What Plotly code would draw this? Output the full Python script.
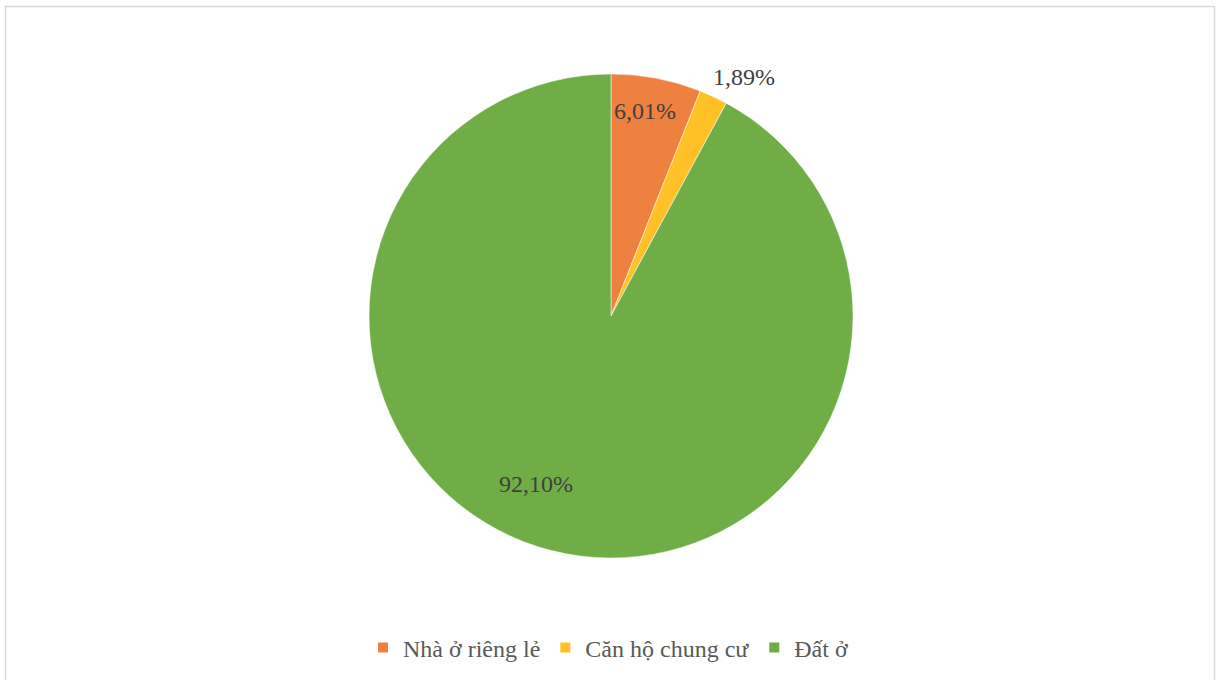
import math
import plotly.graph_objects as go

labels = ["Nhà ở riêng lẻ", "Căn hộ chung cư", "Đất ở"]
values = [6.01, 1.89, 92.10]
text_labels = ["6,01%", "1,89%", "92,10%"]
colors = ["#EE8040", "#FFC125", "#70AD47"]
# label placement (radius fraction, angle offset in degrees) for each slice
label_radius = [0.86, 1.13, 0.76]
label_angle_shift = [-1.5, 4.0, 10.0]

W, H = 1216, 680
cx, cy, R = 611, 316, 242

fig = go.Figure(go.Pie(
    labels=labels,
    values=values,
    sort=False,
    direction="clockwise",
    rotation=0,
    marker=dict(colors=colors, line=dict(color="white", width=0.5)),
    textinfo="none",
    hoverinfo="label+percent",
    domain=dict(x=[(cx - R) / W, (cx + R) / W], y=[1 - (cy + R) / H, 1 - (cy - R) / H]),
))

total = sum(values)
cum = 0.0
annotations = []
for v, t, rf, sh in zip(values, text_labels, label_radius, label_angle_shift):
    mid = (cum + v / 2) / total * 360 + sh
    cum += v
    px = cx + rf * R * math.sin(math.radians(mid))
    py = cy - rf * R * math.cos(math.radians(mid))
    annotations.append(dict(
        x=px / W, y=1 - py / H, xref="paper", yref="paper",
        text=t, showarrow=False,
        font=dict(family="Liberation Serif", size=24, color="#404040"),
        xanchor="center", yanchor="middle",
    ))

fig.update_layout(
    width=W, height=H,
    margin=dict(l=0, r=0, t=0, b=0),
    paper_bgcolor="white",
    plot_bgcolor="white",
    showlegend=True,
    legend=dict(
        orientation="h", x=0.5, xanchor="center", y=1 - 648 / H, yanchor="middle",
        font=dict(family="Liberation Serif", size=24, color="#595959"),
        itemsizing="constant",
        traceorder="normal",
    ),
    annotations=annotations,
    shapes=[dict(type="rect", xref="paper", yref="paper",
                 x0=5.5 / W, x1=1214.5 / W, y0=-0.01, y1=1 - 6.5 / H,
                 line=dict(color="#D9D9D9", width=1.5))],
)

fig.write_html("out.html")
